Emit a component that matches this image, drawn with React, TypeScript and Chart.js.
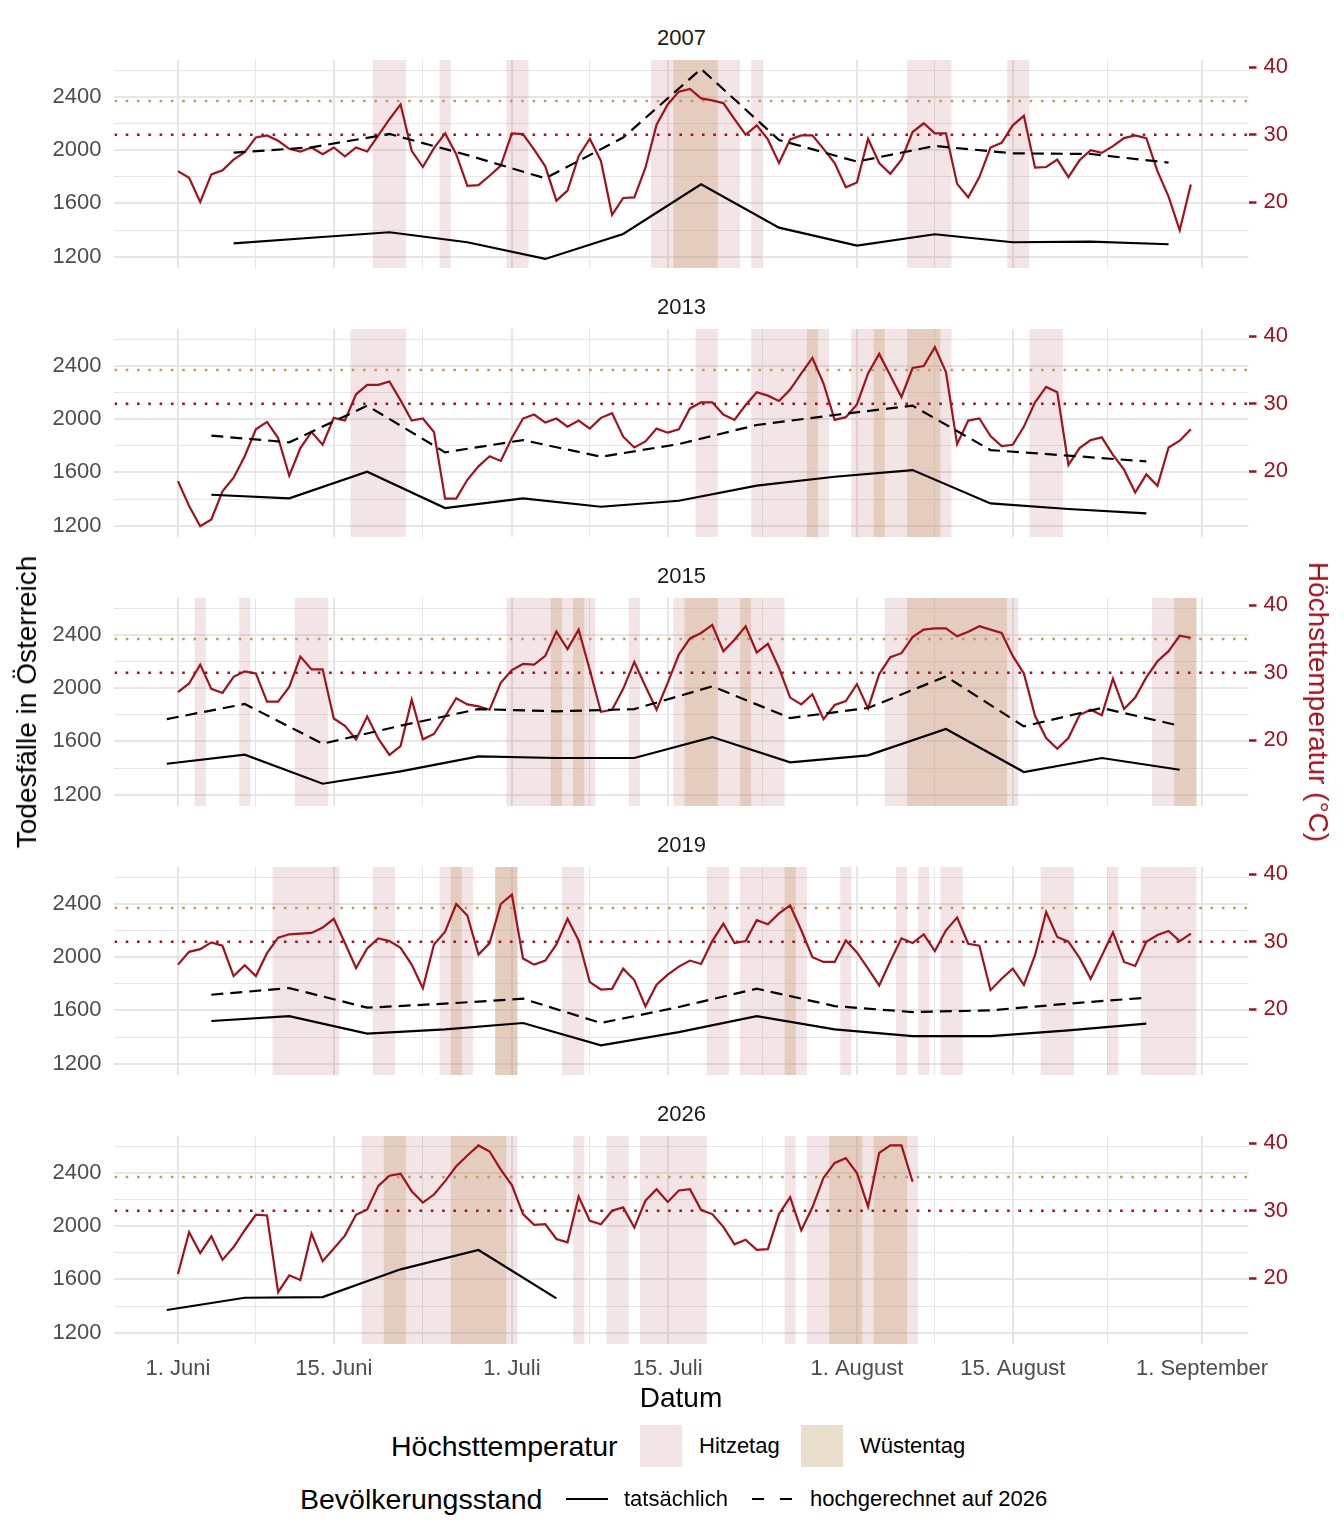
import React, { useEffect, useRef } from "react";
import { Chart, registerables } from "chart.js";
Chart.register(...registerables);

// ---------- data ----------
const years = ["2007", "2013", "2015", "2019", "2026"];

const temp2007 = [24.6,23.6,20.0,24.1,24.7,26.3,27.4,29.6,29.9,29.1,27.9,27.5,28.1,27.1,28.1,26.8,28.1,27.5,29.9,32.3,34.5,27.6,25.2,28.0,30.2,27.1,22.4,22.5,23.9,25.4,30.2,30.1,27.8,25.3,20.2,21.7,26.8,29.4,26.1,18.1,20.6,20.7,25.1,31.5,34.5,
36.4,36.8,35.4,35.1,34.7,32.3,30.0,31.4,29.3,25.8,29.3,29.9,29.9,27.9,25.8,22.2,22.9,29.4,25.8,24.2,26.3,30.4,31.7,30.2,30.2,22.7,20.7,23.7,28.1,28.8,31.4,32.8,25.1,25.2,26.3,23.7,26.2,27.7,27.3,28.3,29.5,29.9,29.5,24.6,20.8,15.8,22.6];
const temp2013 = [18.5,14.8,11.8,12.8,17.0,19.0,22.2,26.2,27.3,24.9,19.3,23.4,25.8,23.9,27.9,27.5,31.4,32.8,32.8,33.3,30.5,27.5,27.8,25.8,15.9,15.9,18.7,20.7,22.2,21.5,24.9,27.8,28.4,27.2,27.8,26.6,27.5,26.3,27.9,28.6,25.1,23.5,24.4,26.3,25.7,
26.2,29.3,30.2,30.2,28.4,27.6,29.8,31.7,31.2,30.4,32.1,34.5,36.8,33.0,27.6,28.0,29.9,34.5,37.4,34.2,31.0,35.3,35.6,38.4,34.7,24.0,27.5,27.8,25.2,23.7,23.9,26.6,30.2,32.5,31.7,20.9,23.4,24.6,25.0,22.4,20.2,16.8,19.5,17.8,23.5,24.5,26.2];
const temp2015 = [27.1,28.4,31.2,27.6,27.0,29.4,30.2,29.9,25.7,25.7,27.9,32.4,30.5,30.5,23.2,22.1,20.1,23.5,20.2,17.8,19.1,26.0,20.1,20.9,23.5,26.2,25.3,25.0,24.5,28.5,30.4,31.3,31.2,32.5,36.1,33.5,36.4,30.4,24.2,24.5,27.6,31.6,28.0,24.5,28.5,
32.7,35.1,35.9,37.1,33.2,34.9,36.9,33.0,34.3,30.7,26.3,25.3,26.8,23.1,25.2,25.8,28.3,24.7,29.8,32.3,32.9,35.3,36.4,36.6,36.6,35.4,36.1,36.9,36.4,35.9,32.5,29.9,23.6,20.3,18.7,20.3,23.7,24.5,23.7,29.1,24.6,26.3,29.3,31.7,33.2,35.5,35.2];
const temp2019 = [26.6,28.5,28.9,29.9,29.4,24.9,26.5,24.9,28.3,30.6,31.1,31.2,31.3,32.1,33.4,29.8,26.1,29.0,30.5,30.1,29.1,26.6,23.1,29.6,31.5,35.6,33.9,28.1,29.8,35.6,37.0,27.5,26.6,27.2,29.6,33.4,30.2,24.0,22.9,23.0,26.0,24.3,20.4,23.6,25.1,
26.3,27.2,26.7,30.1,32.7,29.8,30.1,33.2,32.6,34.2,35.4,31.7,27.7,27.0,27.0,30.2,28.4,26.0,23.5,27.1,30.5,29.8,31.1,28.6,31.7,33.6,29.7,29.4,22.8,24.5,26.0,23.6,28.0,34.4,30.7,30.0,27.6,24.5,27.9,31.4,27.0,26.4,30.0,31.0,31.6,30.1,31.2];
const temp2026 = [20.6,26.8,23.7,26.2,22.7,24.6,27.1,29.4,29.3,17.9,20.4,19.7,26.6,22.5,24.4,26.3,29.4,30.2,33.7,35.2,35.5,32.9,31.2,32.4,34.4,36.6,38.2,39.7,38.8,36.1,33.8,29.5,27.9,28.0,25.8,25.3,32.1,28.5,28.0,30.0,30.5,27.5,31.5,33.2,31.3,
33.0,33.2,30.1,29.5,27.6,25.0,25.7,24.2,24.3,29.5,32.0,27.1,30.5,34.9,37.1,37.8,35.6,30.6,38.6,39.7,39.7,34.3];

const deathDays2007 = [5,12,19,26,33,40,47,54,61,68,75,82,89];
const actual2007 = [1300,1342,1383,1308,1183,1370,1742,1418,1283,1368,1308,1313,1293];
const proj2007 = [1980,2020,2120,1962,1788,2093,2608,2075,1913,2030,1975,1970,1905];
const deathDays2013 = [3,10,17,24,31,38,45,52,59,66,73,80,87];
const actual2013 = [1432,1405,1605,1332,1405,1342,1387,1500,1567,1617,1367,1325,1292];
const proj2013 = [1875,1825,2100,1750,1842,1717,1812,1955,2030,2100,1767,1725,1682];
const deathDays2015 = [-1,6,13,20,27,34,41,48,55,62,69,76,83,90];
const actual2015 = [1432,1500,1282,1375,1487,1475,1475,1632,1442,1495,1692,1370,1475,1387];
const proj2015 = [1767,1880,1582,1717,1842,1825,1842,2012,1775,1850,2087,1712,1850,1717];
const deathDays2019 = [3,10,17,24,31,38,45,52,59,66,73,80,87];
const actual2019 = [1520,1557,1425,1457,1505,1337,1437,1557,1457,1407,1407,1450,1500];
const proj2019 = [1717,1767,1620,1650,1687,1505,1625,1762,1632,1587,1600,1650,1695];
const deathDays2026 = [-1,6,13,20,27,34];
const actual2026 = [1370,1462,1467,1675,1820,1457];
const proj2026: number[] = [];

const hot2007 = [[18,20],[24,24],[30,31],[43,50],[52,52],[66,69],[75,76]];
const desert2007 = [[45,48]];
const hot2013 = [[16,20],[47,48],[52,58],[61,69],[77,79]];
const desert2013 = [[57,57],[63,63],[66,68]];
const hot2015 = [[2,2],[6,6],[11,13],[30,37],[41,41],[45,54],[64,75],[88,91]];
const desert2015 = [[34,34],[36,36],[46,48],[51,51],[66,74],[90,91]];
const hot2019 = [[9,14],[18,19],[24,26],[29,30],[35,36],[48,49],[51,56],[60,60],[65,65],[67,67],[69,70],[78,80],[84,84],[87,91]];
const desert2019 = [[25,25],[29,30],[55,55]];
const hot2026 = [[17,30],[36,36],[39,40],[42,47],[55,55],[57,66]];
const desert2026 = [[19,20],[25,29],[59,61],[63,65]];

const xMajorTicks = [0, 14, 30, 44, 61, 75, 92];
const xMajorLabels = ["1. Juni", "15. Juni", "1. Juli", "15. Juli", "1. August", "15. August", "1. September"];
const xMinorTicks = [7, 22, 37, 52.5, 68, 83.5];
const yLeftTicks = [1200, 1400, 1600, 1800, 2000, 2200, 2400, 2600];
const yRightTicks = [20, 30, 40];
const hitzeThreshold = 30;
const wuesteThreshold = 35;

// ---------- styling ----------
const FONT = "'Liberation Sans', Arial, sans-serif";
const RED = "#a2121c";
const TAN_LINE = "#c49a5c";
const PINK = "rgba(190,110,115,0.18)";
const TAN = "rgba(195,150,100,0.30)";
const GRID = "#e6e6e6";
const PANEL_TOP = 60;
const PANEL_STEP = 269;
const PLOT_H = 208;
const PAD = 30;
const LEFT_W = 114.4;
const RIGHT_W = 1344 - 1248.5;

const panels = [
  { year: years[0], temp: temp2007, dDays: deathDays2007, actual: actual2007, proj: proj2007, hot: hot2007, desert: desert2007 },
  { year: years[1], temp: temp2013, dDays: deathDays2013, actual: actual2013, proj: proj2013, hot: hot2013, desert: desert2013 },
  { year: years[2], temp: temp2015, dDays: deathDays2015, actual: actual2015, proj: proj2015, hot: hot2015, desert: desert2015 },
  { year: years[3], temp: temp2019, dDays: deathDays2019, actual: actual2019, proj: proj2019, hot: hot2019, desert: desert2019 },
  { year: years[4], temp: temp2026, dDays: deathDays2026, actual: actual2026, proj: proj2026, hot: hot2026, desert: desert2026 },
];

function Panel({ p, idx, last }: any) {
  const ref = useRef<HTMLCanvasElement>(null);
  const bottomH = last ? 60 : PAD;
  const height = PAD + PLOT_H + bottomH;
  useEffect(() => {
    const shading = {
      id: "shading",
      beforeDatasetsDraw(chart: any) {
        const { ctx, chartArea: a, scales } = chart;
        const x = scales.x;
        const yT = scales.yT;
        ctx.save();
        ctx.beginPath();
        ctx.rect(a.left, a.top, a.right - a.left, a.bottom - a.top);
        ctx.clip();
        const band = (r: number[], c: string) => {
          const x0 = x.getPixelForValue(r[0] - 0.5);
          const x1 = x.getPixelForValue(r[1] + 0.5);
          ctx.fillStyle = c;
          ctx.fillRect(x0, a.top, x1 - x0, a.bottom - a.top);
        };
        p.hot.forEach((r: number[]) => band(r, PINK));
        p.desert.forEach((r: number[]) => band(r, TAN));
        ctx.lineWidth = 2.6;
        ctx.setLineDash([2.6, 8.7]);
        [[wuesteThreshold, TAN_LINE], [hitzeThreshold, RED]].forEach(([v, c]: any) => {
          const y = yT.getPixelForValue(v);
          ctx.strokeStyle = c;
          ctx.beginPath();
          ctx.moveTo(a.left, y);
          ctx.lineTo(a.right, y);
          ctx.stroke();
        });
        ctx.restore();
      },
    };
    const datasets: any[] = [
      {
        data: p.dDays.map((d: number, i: number) => ({ x: d, y: p.actual[i] })),
        borderColor: "#000", borderWidth: 2.2, pointRadius: 0, yAxisID: "y", order: 0,
      },
    ];
    if (p.proj.length) {
      datasets.push({
        data: p.dDays.map((d: number, i: number) => ({ x: d, y: p.proj[i] })),
        borderColor: "#000", borderWidth: 2.2, borderDash: [12, 7], pointRadius: 0, yAxisID: "y", order: 1,
      });
    }
    datasets.push({
      data: p.temp.map((t: number, i: number) => ({ x: i, y: t })),
      borderColor: RED, borderWidth: 2.2, pointRadius: 0, yAxisID: "yT", order: 2,
    });
    const isMajorX = (v: number) => xMajorTicks.includes(v);
    const chart = new Chart(ref.current!, {
      type: "line",
      data: { datasets },
      plugins: [shading],
      options: {
        animation: false,
        responsive: false,
        layout: { padding: { top: PAD, left: 0, right: 0, bottom: 0 } },
        plugins: { legend: { display: false }, tooltip: { enabled: false } },
        elements: { line: { tension: 0 } },
        scales: {
          x: {
            type: "linear", min: -5.71, max: 96.18,
            afterBuildTicks: (s: any) => {
              s.ticks = [...xMajorTicks, ...xMinorTicks].sort((a, b) => a - b).map((v) => ({ value: v }));
            },
            afterFit: (s: any) => { s.height = bottomH; },
            border: { display: false },
            grid: {
              drawTicks: false,
              color: GRID,
              lineWidth: (c: any) => (isMajorX(c.tick?.value) ? 2 : 1),
            },
            ticks: {
              display: last, autoSkip: false, maxRotation: 0, padding: 12,
              color: "#4d4d4d", font: { family: FONT, size: 22 },
              callback: (v: any) => {
                const i = xMajorTicks.indexOf(Number(v));
                return i >= 0 ? xMajorLabels[i] : "";
              },
            },
          },
          y: {
            position: "left", min: 1115, max: 2675,
            afterBuildTicks: (s: any) => { s.ticks = yLeftTicks.map((v) => ({ value: v })); },
            afterFit: (s: any) => { s.width = LEFT_W; },
            border: { display: false },
            grid: {
              drawTicks: false, color: GRID,
              lineWidth: (c: any) => (c.tick && c.tick.value % 400 === 0 ? 2 : 1),
            },
            ticks: {
              padding: 13, color: "#4d4d4d", font: { family: FONT, size: 22 },
              callback: (v: any) => (Number(v) % 400 === 0 ? String(v) : ""),
            },
          },
          yT: {
            position: "right", min: 10.2, max: 41.1,
            afterBuildTicks: (s: any) => { s.ticks = yRightTicks.map((v) => ({ value: v })); },
            afterFit: (s: any) => { s.width = RIGHT_W; },
            border: { display: false },
            grid: { drawOnChartArea: false, drawTicks: true, tickLength: 8, tickColor: RED, tickWidth: 2.5 },
            ticks: { padding: 7, color: RED, font: { family: FONT, size: 22 } },
          },
        },
      } as any,
    });
    return () => chart.destroy();
  }, []);
  const top = PANEL_TOP + idx * PANEL_STEP - PAD;
  return (
    <>
      <div style={{ position: "absolute", left: LEFT_W, width: 1248.5 - LEFT_W, top: PANEL_TOP + idx * PANEL_STEP - 22, textAlign: "center", fontFamily: FONT, fontSize: 22, color: "#1a1a1a", lineHeight: "0px" }}>{p.year}</div>
      <canvas ref={ref} width={1344} height={height} style={{ position: "absolute", left: 0, top, width: 1344, height }} />
    </>
  );
}

export default function App() {
  const txt = (s: string, left: number, top: number, size: number, extra: any = {}) => (
    <div style={{ position: "absolute", left, top, fontFamily: FONT, fontSize: size, lineHeight: "0px", whiteSpace: "nowrap", ...extra }}>{s}</div>
  );
  return (
    <div style={{ position: "absolute", left: 0, top: 0, width: 1344, height: 1536, background: "#fff", overflow: "hidden" }}>
      {panels.map((p, i) => <Panel key={p.year} p={p} idx={i} last={i === panels.length - 1} />)}
      {/* axis titles */}
      <div style={{ position: "absolute", left: 27, top: 702, transform: "translate(-50%,-50%) rotate(-90deg)", fontFamily: FONT, fontSize: 28, whiteSpace: "nowrap" }}>Todesfälle in Österreich</div>
      <div style={{ position: "absolute", left: 1318, top: 702, transform: "translate(-50%,-50%) rotate(90deg)", fontFamily: FONT, fontSize: 28, whiteSpace: "nowrap", color: RED }}>Höchsttemperatur (°C)</div>
      {txt("Datum", 681, 1398, 28, { transform: "translateX(-50%)" })}
      {/* legend row 1 */}
      {txt("Höchsttemperatur", 391, 1446, 28.5)}
      <div style={{ position: "absolute", left: 640, top: 1425, width: 42, height: 42, background: "#f3e5e6" }} />
      {txt("Hitzetag", 699, 1446, 22)}
      <div style={{ position: "absolute", left: 801, top: 1425, width: 42, height: 42, background: "#e9dfcc" }} />
      {txt("Wüstentag", 860, 1446, 22)}
      {/* legend row 2 */}
      {txt("Bevölkerungsstand", 300, 1499, 28.5)}
      <svg style={{ position: "absolute", left: 566, top: 1489 }} width={42} height={20}>
        <line x1={0} y1={10} x2={42} y2={10} stroke="#000" strokeWidth={2.2} />
      </svg>
      {txt("tatsächlich", 624, 1499, 22)}
      <svg style={{ position: "absolute", left: 752, top: 1489 }} width={42} height={20}>
        <line x1={0} y1={10} x2={42} y2={10} stroke="#000" strokeWidth={2.2} strokeDasharray="12 16" />
      </svg>
      {txt("hochgerechnet auf 2026", 810, 1499, 22)}
    </div>
  );
}
